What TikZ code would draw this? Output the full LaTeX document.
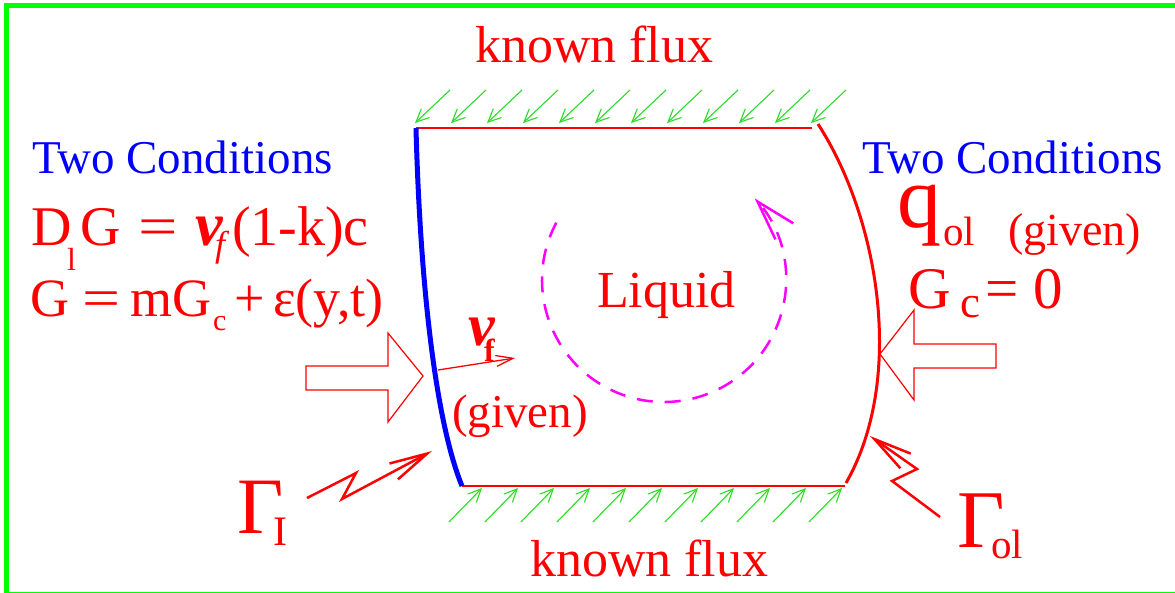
\documentclass[tikz,border=0pt]{standalone}
\usepackage{fontspec}
\usepackage{graphicx}
\setmainfont{Liberation Serif}
\usetikzlibrary{arrows.meta}
\definecolor{pred}{RGB}{255,0,0}
\definecolor{pblue}{RGB}{0,0,255}
\definecolor{pgreen}{RGB}{0,255,0}
\definecolor{agreen}{RGB}{40,220,40}
\definecolor{pmag}{RGB}{255,0,255}
\newcommand{\fsz}[1]{\fontsize{#1}{#1}\selectfont}
\begin{document}
\begin{tikzpicture}[x=1pt,y=-1pt,
  txt/.style={anchor=base west, inner sep=0pt, outer sep=0pt, text=pred},
  btxt/.style={txt, text=pblue},
  flux/.style={agreen, line width=1.1pt, -{Straight Barb[length=13pt,width=12pt]}},
  zap/.style={pred, line width=2.5pt, -{Straight Barb[length=38pt,width=18pt]}},
  blockarrow/.style={pred, line width=1.2pt, fill=white},
]
\path[use as bounding box] (0,0) rectangle (1175,592);
\draw[pgreen, line width=5pt] (6.5,5.5) rectangle (1180,594);

% domain corners
\coordinate (TL) at (416,128);
\coordinate (TR) at (812,128);
\coordinate (BL) at (462,486);
\coordinate (BR) at (845,486);
\coordinate (RT) at (818,124);
\coordinate (RB) at (846,483);

% flux arrows
\foreach \i in {0,...,11} \draw[flux] ({415+36*\i+35},90) -- ({415+36*\i},123);
\foreach \i in {0,...,10} \draw[flux] ({482+36*\i-33},522) -- ({482+36*\i},488);

% boundaries
\draw[pred, line width=2pt] (TL) -- (TR);
\draw[pred, line width=2.5pt] (BL) -- (BR);
\draw[pblue, line width=5pt] (TL) .. controls (420,280) and (435,420) .. (BL);
\draw[pred, line width=3pt] (RT) .. controls (880,220) and (905,380) .. (RB);

% block arrows
\draw[blockarrow] (306,366) -- (388,366) -- (388,333) -- (423,376) -- (388,422) -- (388,390) -- (306,390) -- cycle;
\draw[blockarrow] (996,344) -- (914,344) -- (914,310) -- (880,354) -- (914,400) -- (914,368) -- (996,368) -- cycle;

% velocity arrow
\coordinate (vs) at (438,370);
\coordinate (ve) at (515,358);
\draw[pred, line width=1.3pt, -{Straight Barb[length=17pt,width=11pt]}] (vs) -- (ve);

% lightning arrows
\coordinate (zi) at (307,498);
\coordinate (zo) at (940,517);
\draw[zap] (zi) -- (356,473) -- (342,499) -- (432,451);
\draw[zap] (zo) -- (892,481) -- (917,469) -- (870,436);

% circulation
\draw[pmag, line width=2.5pt, dash pattern=on 16pt off 12pt, -{Straight Barb[length=40pt,width=24pt]}]
  (664,280) ++(208:122) arc[start angle=208, end angle=-42, radius=122];

% texts
\node[txt, font=\fsz{52}] (kt) at (475,62) {known flux};
\node[txt, font=\fsz{52}] (kb) at (530,576) {known flux};
\node[btxt, font=\fsz{47}] (tcl) at (32,173) {Two Conditions};
\node[btxt, font=\fsz{47}] (tcr) at (862,173) {Two Conditions};

\node[txt, font=\fsz{56}] (D) at (31,245) {D};
\node[txt, font=\fsz{32}] (Dl) at (67,270) {l};
\node[txt, font=\fsz{56}] (G1) at (80,245) {G};
\node[txt, font=\fsz{56}] (eq1) at (138,245) {\scalebox{1.25}[1]{=}};
\node[txt, font=\fsz{62}\bfseries\itshape] (v1) at (195,245) {v};
\node[txt, font=\fsz{36}\itshape] (f1) at (215,256) {f};
\node[txt, font=\fsz{56}] (r1) at (232,245) {(1-k)c};

\node[txt, font=\fsz{54}] (G2) at (30,316) {G};
\node[txt, font=\fsz{54}] (eq2) at (82,316) {\scalebox{1.25}[1]{=}};
\node[txt, font=\fsz{54}] (mG) at (130,316) {mG};
\node[txt, font=\fsz{30}] (c2) at (213,330) {c};
\node[txt, font=\fsz{54}] (pl) at (234,316) {+};
\node[txt, font=\fsz{54}] (eps) at (273,316) {ε(y,t)};

\node[txt, font=\fsz{52}] (liq) at (597,307) {Liquid};
\node[txt, font=\fsz{47}] (gv) at (452,427) {(given)};
\node[txt, font=\fsz{60}\bfseries\itshape] (vl) at (468,345) {v};
\node[txt, font=\fsz{32}\bfseries] (fl) at (484,361) {f};

\node[txt, font=\fsz{88}] (q) at (897,227) {q};
\node[txt, font=\fsz{41}] (qol) at (943,245) {ol};
\node[txt, font=\fsz{46}] (qg) at (1008,245) {(given)};
\node[txt, font=\fsz{59}] (Gc) at (908,308) {G};
\node[txt, font=\fsz{45}] (cc) at (960,317) {c};
\node[txt, font=\fsz{59}] (eq0) at (985,308) {= 0};

\node[txt, font=\fsz{80}] (GI) at (237,533) {Γ};
\node[txt, font=\fsz{42}] (GIs) at (273,545) {I};
\node[txt, font=\fsz{82}] (Gol) at (957,547) {Γ};
\node[txt, font=\fsz{41}] (Gols) at (991,558) {ol};
\end{tikzpicture}
\end{document}
